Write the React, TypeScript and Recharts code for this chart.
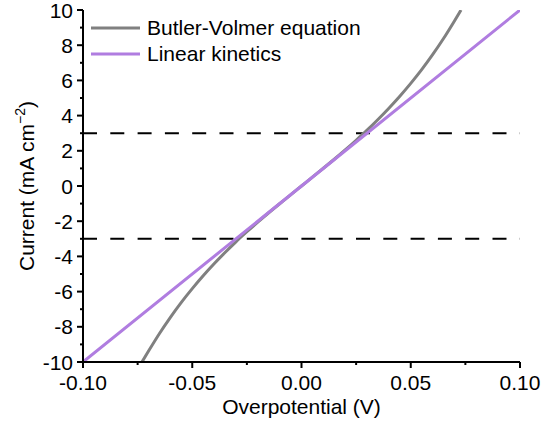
import { Legend, Line, LineChart, ReferenceLine, XAxis, YAxis } from 'recharts';

const FONT = '"Liberation Sans", Arial, sans-serif';

// Overpotential (V) vs current (mA cm^-2)
const bvX = [
  -0.073, -0.07, -0.065, -0.06, -0.055, -0.05, -0.045, -0.04, -0.035, -0.03, -0.025, -0.02, -0.015, -0.01, -0.005,
  0, 0.005, 0.01, 0.015, 0.02, 0.025, 0.03, 0.035, 0.04, 0.045, 0.05, 0.055, 0.06, 0.065, 0.07, 0.073,
];
const bvY = [
  -10.0, -9.38, -8.38, -7.46, -6.61, -5.83, -5.1, -4.42, -3.78, -3.17, -2.6, -2.05, -1.52, -1.01, -0.5,
  0, 0.5, 1.01, 1.52, 2.05, 2.6, 3.17, 3.78, 4.42, 5.1, 5.83, 6.61, 7.46, 8.38, 9.38, 10.0,
];
const linX = [-0.1, 0, 0.1];
const linY = [-10, 0, 10];
const limits = [3, -3];

const xTicks = [-0.1, -0.075, -0.05, -0.025, 0, 0.025, 0.05, 0.075, 0.1];
const xLabels = ['-0.10', '', '-0.05', '', '0.00', '', '0.05', '', '0.10'];
const yTicks = [-10, -9, -8, -7, -6, -5, -4, -3, -2, -1, 0, 1, 2, 3, 4, 5, 6, 7, 8, 9, 10];

const series = [
  { name: 'Butler-Volmer equation', color: '#808080' },
  { name: 'Linear kinetics', color: '#b07de0' },
];

const bvData = bvX.map((x, i) => ({ x, y: bvY[i] }));
const linData = linX.map((x, i) => ({ x, y: linY[i] }));

function YTick({ x, y, payload }: any) {
  const major = payload.value % 2 === 0;
  return (
    <g>
      <line x1={x} x2={x - (major ? 6 : 3)} y1={y} y2={y} stroke="#000" strokeWidth={2} />
      {major && (
        <text x={x - 10} y={y} dy="0.36em" textAnchor="end" fontSize={21} fontFamily={FONT} fill="#000">
          {payload.value}
        </text>
      )}
    </g>
  );
}

function XTick({ x, y, index }: any) {
  const label = xLabels[index] ?? '';
  return (
    <g>
      <line x1={x} x2={x} y1={y} y2={y + (label ? 6 : 3)} stroke="#000" strokeWidth={2} />
      {label && (
        <text x={x} y={y + 27.5} textAnchor="middle" fontSize={21} fontFamily={FONT} fill="#000">
          {label}
        </text>
      )}
    </g>
  );
}

function YLabel() {
  return (
    <text
      x={33.5}
      y={186}
      transform="rotate(-90 33.5 186)"
      textAnchor="middle"
      fontSize={21}
      fontFamily={FONT}
      fill="#000"
    >
      Current (mA cm
      <tspan fontSize={14} dy={-9}>
        −2
      </tspan>
      <tspan dy={9}>)</tspan>
    </text>
  );
}

function XLabel() {
  return (
    <text x={301.5} y={413.5} textAnchor="middle" fontSize={21} fontFamily={FONT} fill="#000">
      Overpotential (V)
    </text>
  );
}

function LegendBox() {
  return (
    <div style={{ fontFamily: FONT, fontSize: 21, color: '#000' }}>
      {series.map((s) => (
        <div key={s.name} style={{ display: 'flex', alignItems: 'center', height: 26 }}>
          <svg width={56} height={26}>
            <line x1={0} x2={49} y1={13} y2={13} stroke={s.color} strokeWidth={3} />
          </svg>
          <span style={{ lineHeight: '26px' }}>{s.name}</span>
        </div>
      ))}
    </div>
  );
}

export default function App() {
  return (
    <div style={{ position: 'absolute', left: 0, top: 0, background: '#fff' }}>
      <LineChart
        width={543}
        height={421}
        margin={{ top: 10, right: 23, left: 0, bottom: 0 }}
        style={{ fontFamily: FONT }}
      >
        <XAxis
          xAxisId="top"
          orientation="top"
          type="number"
          dataKey="x"
          domain={[-0.1, 0.1]}
          height={0}
          tick={false}
          tickLine={false}
          stroke="#000"
          strokeWidth={2}
        />
        <YAxis
          yAxisId="right"
          orientation="right"
          type="number"
          domain={[-10, 10]}
          width={0}
          tick={false}
          tickLine={false}
          stroke="#000"
          strokeWidth={2}
        />
        <XAxis
          type="number"
          dataKey="x"
          domain={[-0.1, 0.1]}
          ticks={xTicks}
          interval={0}
          height={59}
          tickSize={0}
          tickMargin={0}
          tickLine={false}
          tick={<XTick />}
          stroke="#000"
          strokeWidth={2}
          label={<XLabel />}
          allowDataOverflow
        />
        <YAxis
          type="number"
          domain={[-10, 10]}
          ticks={yTicks}
          interval={0}
          width={83}
          tickSize={0}
          tickMargin={0}
          tickLine={false}
          tick={<YTick />}
          stroke="#000"
          strokeWidth={2}
          label={<YLabel />}
          allowDataOverflow
        />
        {limits.map((v) => (
          <ReferenceLine key={v} y={v} stroke="#000" strokeWidth={2} strokeDasharray="14 13.3" />
        ))}
        <Line
          data={bvData}
          dataKey="y"
          name={series[0].name}
          type="monotone"
          stroke={series[0].color}
          strokeWidth={3}
          dot={false}
          isAnimationActive={false}
        />
        <Line
          data={linData}
          dataKey="y"
          name={series[1].name}
          type="linear"
          stroke={series[1].color}
          strokeWidth={3}
          dot={false}
          isAnimationActive={false}
        />
        <Legend
          layout="vertical"
          align="center"
          verticalAlign="middle"
          content={<LegendBox />}
          wrapperStyle={{ top: 15, left: 91, width: 'auto' }}
        />
      </LineChart>
    </div>
  );
}
